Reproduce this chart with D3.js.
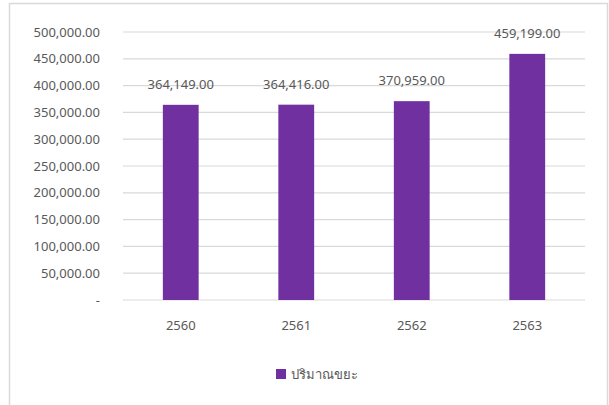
<!DOCTYPE html>
<html>
<head>
<meta charset="utf-8">
<script src="https://cdn.jsdelivr.net/npm/d3@7"></script>
<style>
  body { margin: 0; background: #fff; }
  text { font-family: "Noto Sans", "DejaVu Sans", sans-serif; }
</style>
</head>
<body>
<div id="chart"></div>
<script>
var years = ["2560", "2561", "2562", "2563"];
var amounts = [364149, 364416, 370959, 459199];
var yTicks = [0, 50000, 100000, 150000, 200000, 250000, 300000, 350000, 400000, 450000, 500000];
var seriesName = "ปริมาณขยะ";

var w = 609, h = 405;
var plotLeft = 123, plotRight = 585, plotTop = 32, plotBottom = 300;
var barColor = "#7030A0";
var textColor = "#595959";

var svg = d3.select("#chart").append("svg")
    .attr("width", w)
    .attr("height", h);

// outer chart border
svg.append("rect")
    .attr("x", 9.5).attr("y", 3.5)
    .attr("width", 598).attr("height", 420)
    .attr("fill", "none")
    .attr("stroke", "#d9d9d9")
    .attr("stroke-width", 1.5);

var x = d3.scaleBand()
    .domain(years)
    .range([plotLeft, plotRight])
    .paddingInner(0.69)
    .paddingOuter(0.345);

var y = d3.scaleLinear()
    .domain([0, 500000])
    .range([plotBottom, plotTop]);

var fmt = d3.format(",.2f");

// gridlines
svg.append("g")
    .selectAll("line")
    .data(yTicks)
    .enter()
    .append("line")
    .attr("x1", plotLeft).attr("x2", plotRight)
    .attr("y1", d => y(d)).attr("y2", d => y(d))
    .attr("stroke", "#d9d9d9")
    .attr("stroke-width", 1.2);

// y axis labels
var yAxis = d3.axisLeft(y)
    .tickValues(yTicks)
    .tickSize(0)
    .tickPadding(0)
    .tickFormat(d => d === 0 ? "-" : fmt(d));

svg.append("g")
    .attr("transform", "translate(100,0)")
    .call(yAxis)
    .call(g => g.select(".domain").remove())
    .selectAll("text")
    .attr("fill", textColor)
    .style("font-size", "13px");

// x axis labels
var xAxis = d3.axisBottom(x).tickSize(0).tickPadding(0);
svg.append("g")
    .attr("transform", "translate(0,321)")
    .call(xAxis)
    .call(g => g.select(".domain").remove())
    .selectAll("text")
    .attr("fill", textColor)
    .style("font-size", "13px");

// bars
svg.append("g")
    .selectAll("rect")
    .data(amounts)
    .enter()
    .append("rect")
    .attr("x", (d, i) => x(years[i]))
    .attr("y", d => y(d))
    .attr("width", x.bandwidth())
    .attr("height", d => plotBottom - y(d))
    .attr("fill", barColor);

// value labels
svg.append("g")
    .selectAll("text")
    .data(amounts)
    .enter()
    .append("text")
    .attr("x", (d, i) => x(years[i]) + x.bandwidth() / 2)
    .attr("y", d => y(d) - 16)
    .attr("text-anchor", "middle")
    .attr("fill", textColor)
    .style("font-size", "13px")
    .text(d => fmt(d));

// legend
var legend = svg.append("g").attr("transform", "translate(276,369)");
legend.append("rect")
    .attr("width", 10).attr("height", 10)
    .attr("fill", barColor);
legend.append("text")
    .attr("x", 15).attr("y", 10)
    .attr("fill", textColor)
    .style("font-size", "13px")
    .text(seriesName);
</script>
</body>
</html>
